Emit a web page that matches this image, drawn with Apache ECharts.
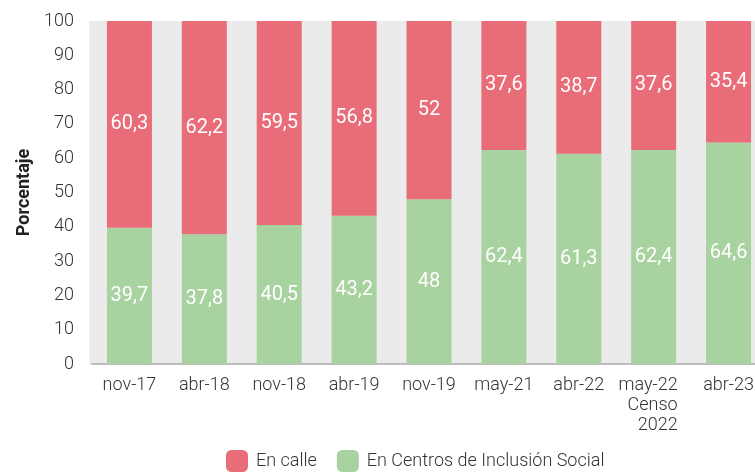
<!DOCTYPE html>
<html>
<head>
<meta charset="utf-8">
<script src="https://cdn.jsdelivr.net/npm/echarts@6/dist/echarts.min.js"></script>
<style>
html,body{margin:0;padding:0;background:#fff;overflow:hidden;width:755px;height:473px;}
#chart{width:790px;height:473px;}
</style>
</head>
<body>
<div id="chart"></div>
<script>
const categories = ['nov-17','abr-18','nov-18','abr-19','nov-19','may-21','abr-22','may-22\nCenso\n2022','abr-23'];
const enCalle = [60.3, 62.2, 59.5, 56.8, 52, 37.6, 38.7, 37.6, 35.4];
const enCentros = [39.7, 37.8, 40.5, 43.2, 48, 62.4, 61.3, 62.4, 64.6];
const yTicks = [0,10,20,30,40,50,60,70,80,90,100];

const baseFont = "Roboto, sans-serif";
const narrowFont = "Roboto, sans-serif";

const chart = echarts.init(document.getElementById('chart'));
const fmt = p => String(p.value).replace('.', ',');
const labelCfg = {
  show: true, position: 'inside', color: '#fff',
  fontFamily: narrowFont, fontSize: 20, formatter: fmt
};
chart.setOption({
  animation: false,
  graphic: [{
    type: 'rect', silent: true, z: -10,
    shape: {x: 89, y: 21, width: 690, height: 343},
    style: {fill: '#ebebeb'}
  }],
  grid: {left: 92, width: 674, top: 21, bottom: 109, containLabel: false},
  legend: {
    data: ['En calle', 'En Centros de Inclusión Social'],
    left: 226, top: 450, padding: 0,
    itemWidth: 22, itemHeight: 22, itemGap: 20,
    icon: 'roundRect',
    textStyle: {fontFamily: baseFont, fontSize: 18, fontWeight: 300, color: '#333', padding: [0,0,0,3]}
  },
  xAxis: {
    type: 'category', data: categories,
    axisLine: {lineStyle: {color: '#bdbdbd', width: 2}},
    axisTick: {show: false},
    axisLabel: {
      fontFamily: baseFont, fontSize: 18, fontWeight: 300, color: '#333', margin: 11, lineHeight: 20,
      interval: 0,
      formatter: v => v.indexOf('\n') >= 0 ? v.split('\n').map(s => '{r|' + s + '}').join('\n') : v,
      rich: {r: {width: 58, padding: [0, 10, 0, 0], align: 'right', fontFamily: baseFont, fontSize: 18, fontWeight: 300, color: '#333', lineHeight: 20}}
    }
  },
  yAxis: {
    type: 'value', min: 0, max: 100, interval: 10,
    name: 'Porcentaje', nameLocation: 'middle', nameGap: 58,
    nameTextStyle: {fontFamily: baseFont, fontSize: 18, fontWeight: 'bold', color: '#222'},
    axisLine: {show: false}, axisTick: {show: false}, splitLine: {show: false},
    axisLabel: {
      fontFamily: baseFont, fontSize: 18, fontWeight: 300, color: '#333', margin: 18,
      formatter: v => yTicks.indexOf(v) >= 0 ? String(v) : ''
    }
  },
  series: [
    {name: 'En Centros de Inclusión Social', type: 'bar', stack: 't', data: enCentros,
     barWidth: 45, itemStyle: {color: '#a8d2a0'}, label: labelCfg},
    {name: 'En calle', type: 'bar', stack: 't', data: enCalle,
     barWidth: 45, itemStyle: {color: '#e96d78'}, label: labelCfg}
  ]
});
</script>
</body>
</html>
